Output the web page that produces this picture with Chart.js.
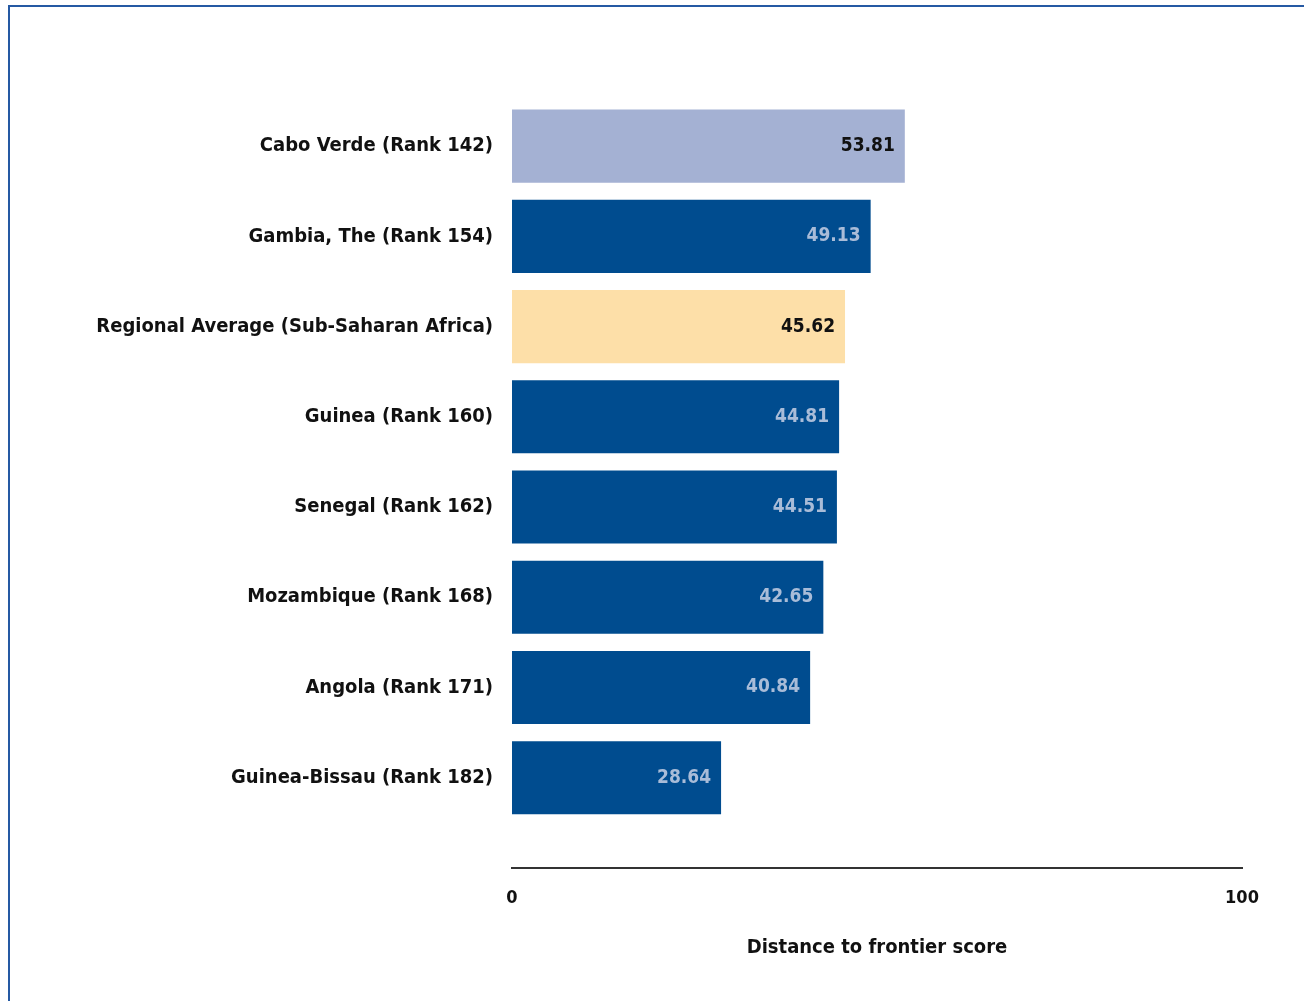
<!DOCTYPE html>
<html>
<head>
<meta charset="utf-8">
<script src="https://cdn.jsdelivr.net/npm/chart.js@4.4.1/dist/chart.umd.min.js"></script>
<style>
  html, body { margin: 0; padding: 0; background: #fff; }
  #wrap { position: relative; width: 1304px; height: 1001px; }
  #frame { position: absolute; left: 8px; top: 5px; right: 0; bottom: 0;
           border-top: 2px solid #2559a3; border-left: 2px solid #2559a3; }
  canvas { position: absolute; left: 0; top: 0; }
</style>
</head>
<body>
<div id="wrap">
  <div id="frame"></div>
  <canvas id="myChart" width="1304" height="1001"></canvas>
</div>
<script>
// values
let countries = [
    'Cabo Verde (Rank 142)',
    'Gambia, The (Rank 154)',
    'Regional Average (Sub-Saharan Africa)',
    'Guinea (Rank 160)',
    'Senegal (Rank 162)',
    'Mozambique (Rank 168)',
    'Angola (Rank 171)',
    'Guinea-Bissau (Rank 182)'
];
let scores = [53.81, 49.13, 45.62, 44.81, 44.51, 42.65, 40.84, 28.64];
let xTicks = [0, 100];
let axisTitle = 'Distance to frontier score';

let barColors = ['#a4b1d3', '#004c8f', '#fddfa8', '#004c8f', '#004c8f', '#004c8f', '#004c8f', '#004c8f'];
let valueColors = ['#111', '#a9bcd8', '#111', '#a9bcd8', '#a9bcd8', '#a9bcd8', '#a9bcd8', '#a9bcd8'];

let points = scores.map((s, i) => ({ x: s, y: i }));

let fontName = '"DejaVu Sans Condensed", "DejaVu Sans"';
let ctx = document.getElementById('myChart').getContext('2d');

// value written inside the end of each bar
let valueLabels = {
    id: 'valueLabels',
    afterDatasetsDraw(chart) {
        let c = chart.ctx;
        let meta = chart.getDatasetMeta(0);
        c.save();
        c.font = 'bold 19px ' + fontName;
        c.textAlign = 'right';
        c.textBaseline = 'middle';
        meta.data.forEach((bar, i) => {
            c.fillStyle = valueColors[i];
            c.fillText(scores[i].toFixed(2), bar.x - 10, bar.y);
        });
        c.restore();
    }
};

let myChart = new Chart(ctx, {
    type: 'bar',
    data: {
        datasets: [{
            data: points,
            backgroundColor: barColors,
            borderWidth: 0,
            barPercentage: 0.9,
            categoryPercentage: 0.9
        }]
    },
    options: {
        indexAxis: 'y',
        responsive: false,
        animation: false,
        layout: { padding: { top: 101, right: 62, left: 0, bottom: 0 } },
        scales: {
            x: {
                type: 'linear',
                min: 0,
                max: 100,
                afterBuildTicks: scale => { scale.ticks = xTicks.map(v => ({ value: v })); },
                afterFit: scale => { scale.height = 133; },
                grid: { display: false, drawTicks: false },
                border: { display: true, color: '#333', width: 2 },
                ticks: {
                    padding: 20,
                    color: '#111',
                    font: { family: fontName, weight: 'bold', size: 18 }
                },
                title: {
                    display: true,
                    text: axisTitle,
                    color: '#111',
                    padding: { top: 0, bottom: 41 },
                    font: { family: fontName, weight: 'bold', size: 20 }
                }
            },
            y: {
                type: 'linear',
                reverse: true,
                offset: false,
                min: -0.5,
                max: 8,
                afterBuildTicks: scale => { scale.ticks = countries.map((c, i) => ({ value: i })); },
                afterFit: scale => { scale.width = 512; },
                grid: { display: false, drawTicks: false },
                border: { display: false },
                ticks: {
                    padding: 19,
                    color: '#111',
                    autoSkip: false,
                    callback: value => countries[value],
                    font: { family: fontName, weight: 'bold', size: 20 }
                }
            }
        },
        plugins: {
            legend: { display: false },
            tooltip: { enabled: false }
        }
    },
    plugins: [valueLabels]
});
</script>
</body>
</html>
